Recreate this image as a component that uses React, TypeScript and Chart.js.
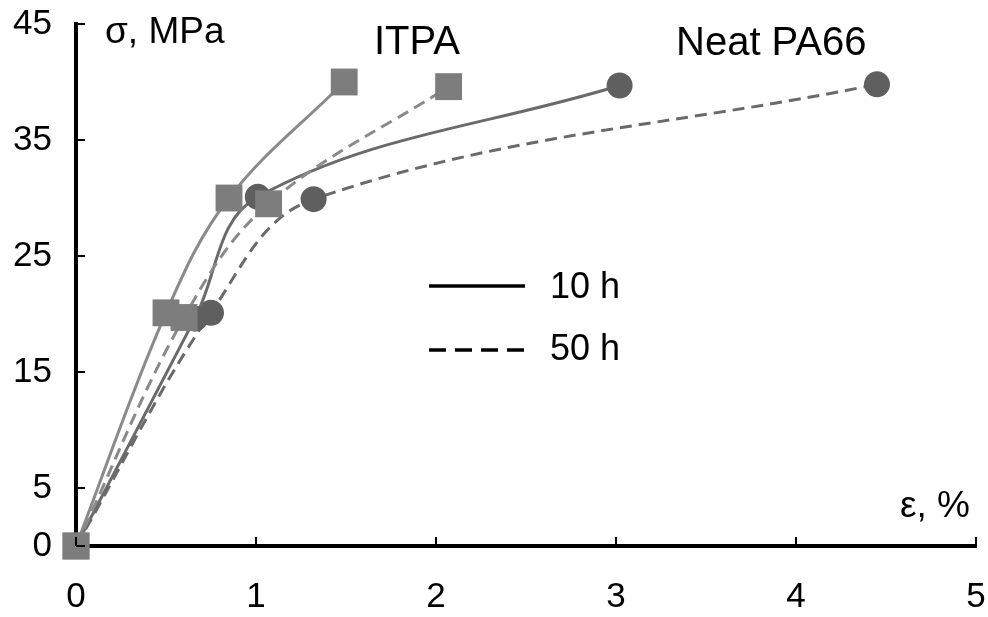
import React, { useEffect, useRef } from "react";
import { Chart, registerables } from "chart.js";
Chart.register(...registerables);

// strain (%) and stress (MPa) readings
const itpa10X = [0, 0.5, 0.85, 1.49];
const itpa10Y = [0, 20.1, 30.0, 40.0];
const itpa50X = [0, 0.6, 1.07, 2.07];
const itpa50Y = [0, 19.7, 29.5, 39.6];
const neat10X = [0, 0.66, 1.01, 3.02];
const neat10Y = [0, 19.6, 30.1, 39.7];
const neat50X = [0, 0.75, 1.32, 4.45];
const neat50Y = [0, 20.1, 29.9, 39.8];

const xTicks = [0, 1, 2, 3, 4, 5];
const yTicks = [0, 5, 15, 25, 35, 45];

const groupLabels = ["ITPA", "Neat PA66"];
const legendLabels = ["10 h", "50 h"];
const yTitle = "σ, MPa";
const xTitle = "ε, %";

const FONT = "'Liberation Sans', Arial, sans-serif";

const pts = (xs: number[], ys: number[]) => xs.map((x, i) => ({ x, y: ys[i] }));

const annot = {
  id: "annot",
  afterDraw(chart: any) {
    const { ctx, chartArea, scales } = chart;
    const x = scales.x;
    const y = scales.y;
    ctx.save();
    // inward ticks
    ctx.strokeStyle = "#000";
    ctx.lineWidth = 2;
    yTicks.forEach((v) => {
      const py = y.getPixelForValue(v);
      ctx.beginPath();
      ctx.moveTo(chartArea.left, py);
      ctx.lineTo(chartArea.left + 9, py);
      ctx.stroke();
    });
    xTicks.forEach((v) => {
      const px = x.getPixelForValue(v);
      ctx.beginPath();
      ctx.moveTo(px, chartArea.bottom);
      ctx.lineTo(px, chartArea.bottom - 9);
      ctx.stroke();
    });
    // texts
    ctx.fillStyle = "#000";
    ctx.textBaseline = "alphabetic";
    ctx.textAlign = "left";
    ctx.font = `37px ${FONT}`;
    ctx.fillText(yTitle, 105, 43);
    ctx.textAlign = "right";
    ctx.fillText(xTitle, 970, 517);
    ctx.textAlign = "left";
    ctx.font = `40px ${FONT}`;
    ctx.fillText(groupLabels[0], 374, 54);
    ctx.fillText(groupLabels[1], 676, 55);
    // legend
    ctx.lineWidth = 3.5;
    ctx.strokeStyle = "#000";
    ctx.beginPath();
    ctx.moveTo(429, 286);
    ctx.lineTo(525, 286);
    ctx.stroke();
    ctx.setLineDash([17, 9]);
    ctx.beginPath();
    ctx.moveTo(429, 350);
    ctx.lineTo(525, 350);
    ctx.stroke();
    ctx.setLineDash([]);
    ctx.font = `36px ${FONT}`;
    ctx.fillText(legendLabels[0], 550, 298);
    ctx.fillText(legendLabels[1], 550, 360);
    ctx.restore();
  },
};

const noPad = (s: any) => {
  s.paddingTop = 0;
  s.paddingBottom = 0;
  s.paddingLeft = 0;
  s.paddingRight = 0;
};

export default function App() {
  const ref = useRef<HTMLCanvasElement>(null);
  useEffect(() => {
    if (!ref.current) return;
    const sq = { pointStyle: "rect", pointRadius: 19, pointBackgroundColor: "#7d7d7d", pointBorderColor: "#7d7d7d", pointBorderWidth: 0 };
    const ci = { pointStyle: "circle", pointRadius: 13, pointBackgroundColor: "#5f5f5f", pointBorderColor: "#5f5f5f", pointBorderWidth: 0 };
    const common = { showLine: true, borderWidth: 3, tension: 0.37, clip: false };
    const chart = new Chart(ref.current, {
      type: "scatter",
      data: {
        datasets: [
          { label: "Neat PA66 50 h", data: pts(neat50X, neat50Y), borderColor: "#6a6a6a", borderDash: [12, 7], order: 4, ...common, ...ci },
          { label: "Neat PA66 10 h", data: pts(neat10X, neat10Y), borderColor: "#6a6a6a", order: 3, ...common, ...ci },
          { label: "ITPA 50 h", data: pts(itpa50X, itpa50Y), borderColor: "#8a8a8a", borderDash: [12, 7], order: 2, ...common, ...sq },
          { label: "ITPA 10 h", data: pts(itpa10X, itpa10Y), borderColor: "#8a8a8a", order: 1, ...common, ...sq },
        ] as any,
      },
      options: {
        animation: false,
        responsive: true,
        maintainAspectRatio: false,
        layout: { autoPadding: false, padding: { top: 24, right: 12, left: 0, bottom: 0 } },
        plugins: { legend: { display: false }, tooltip: { enabled: false } },
        scales: {
          x: {
            type: "linear",
            min: 0,
            max: 5,
            afterBuildTicks: (s: any) => { s.ticks = xTicks.map((v) => ({ value: v })); },
            afterFit: (s: any) => { s.height = 71; noPad(s); },
            grid: { drawOnChartArea: false, drawTicks: false },
            border: { display: true, color: "#000", width: 4 },
            ticks: { color: "#000", font: { family: FONT, size: 35 }, padding: 30, maxRotation: 0 },
          },
          y: {
            type: "linear",
            min: 0,
            max: 45,
            afterBuildTicks: (s: any) => { s.ticks = yTicks.map((v) => ({ value: v })); },
            afterFit: (s: any) => { s.width = 76; noPad(s); },
            grid: { drawOnChartArea: false, drawTicks: false },
            border: { display: true, color: "#000", width: 4 },
            ticks: { color: "#000", font: { family: FONT, size: 35 }, padding: 24 },
          },
        },
      },
      plugins: [annot],
    } as any);
    return () => chart.destroy();
  }, []);
  return (
    <div style={{ position: "absolute", left: 0, top: 0, width: 988, height: 617, background: "#fff" }}>
      <canvas ref={ref} />
    </div>
  );
}
